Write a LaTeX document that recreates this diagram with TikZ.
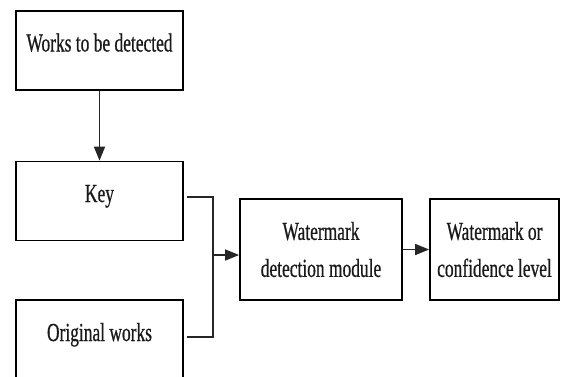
\documentclass[tikz,border=0pt]{standalone}
\usepackage{fontspec}
\setmainfont{Liberation Serif}[FakeStretch=0.67,FakeBold=0.6]
\usepackage{tikz}
\usetikzlibrary{positioning,arrows.meta,calc}

\begin{document}
\begin{tikzpicture}[x=1pt, y=-1pt,
    font=\fontsize{26}{37}\selectfont,
    box/.style={draw=black, line width=1.7pt, inner sep=0pt, align=center, text=black!90},
    upbox/.style={box, minimum width=167pt, minimum height=79pt, text height=17pt, text depth=15pt},
    link/.style={draw=black!85, line width=1.5pt},
    arr/.style={link, -{Triangle[length=14pt,width=11pt]}}]
  \clip (0,0) rectangle (561,376);
  % left column
  \node[upbox] (works) at (99.5,50.5) {Works to be detected};
  \node[upbox] (key) at (99.5,201) {Key};
  \node[upbox, minimum height=80pt] (orig) at (99.5,340) {Original works};
  % right row
  \node[box, minimum width=162pt, minimum height=101pt] (detect) at (321,249.5) {Watermark\\detection module};
  \node[box, minimum width=129pt, minimum height=101pt] (result) at (494.5,249.5) {Watermark or\\confidence level};
  % connectors
  \coordinate (jn) at (213,255);
  \draw[arr] (works) -- (key);
  \draw[link] (key.east) ++(3,-4) -| (jn);
  \draw[link] (orig.east) ++(3,-3) -| (jn);
  \draw[arr] (jn) -- (jn -| detect.west);
  \draw[arr] (detect) -- (result);
\end{tikzpicture}
\end{document}
